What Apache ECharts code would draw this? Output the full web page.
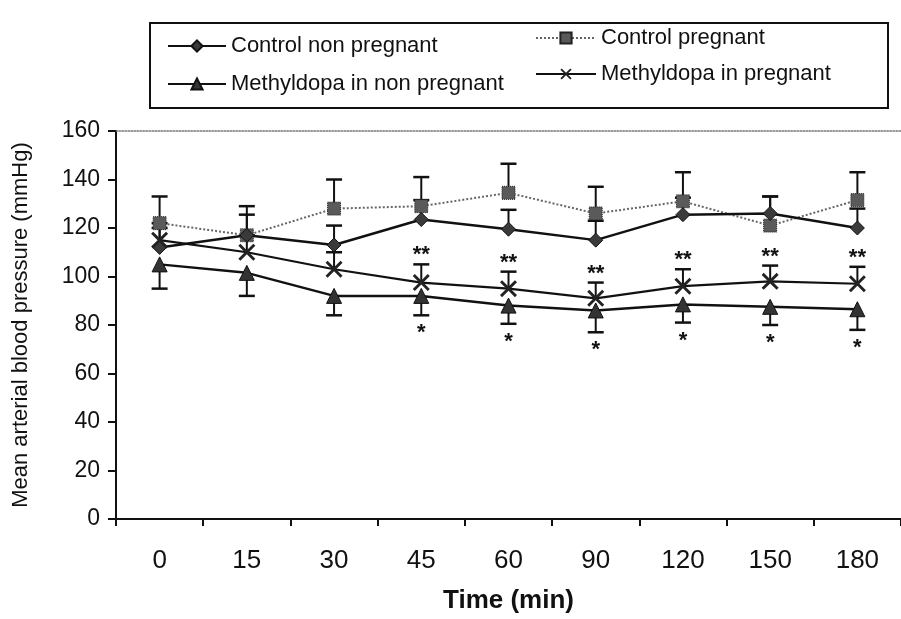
<!DOCTYPE html>
<html>
<head>
<meta charset="utf-8">
<script src="https://cdn.jsdelivr.net/npm/echarts@6/dist/echarts.min.js"></script>
<style>
  html, body { margin: 0; padding: 0; background: #fff; }
  #chart { width: 901px; height: 619px; }
</style>
</head>
<body>
<div id="chart"></div>
<script>
// Time points (min)
const categories = ['0', '15', '30', '45', '60', '90', '120', '150', '180'];

// Mean arterial blood pressure (mmHg) with SEM
const controlNonPregnant = [112, 117, 113, 123.5, 119.5, 115, 125.5, 126, 120];
const controlNonPregnantErr = [8, 8.5, 8, 8, 8, 8, 7, 7, 8];
const controlPregnant = [122, 117, 128, 129, 134.5, 126, 131, 121, 131.5];
const controlPregnantErr = [11, 12, 12, 12, 12, 11, 12, 12, 11.5];
const methyldopaNonPregnant = [105, 101.5, 92, 92, 88, 86, 88.5, 87.5, 86.5];
const methyldopaNonPregnantErr = [10, 9.5, 8, 8, 7.5, 9, 7.5, 7.5, 8.5];
const methyldopaPregnant = [115, 110, 103, 97.5, 95, 91, 96, 98, 97];
const methyldopaPregnantErr = [7, 7, 7, 7.5, 7, 6.5, 7, 6.5, 7];

// Significance marks
const sigPregnant = ['', '', '', '**', '**', '**', '**', '**', '**'];
const sigNonPregnant = ['', '', '', '*', '*', '*', '*', '*', '*'];

const yTicks = { min: 0, max: 160, interval: 20 };

const FONT = '"Liberation Sans", Arial, sans-serif';
const crossPath = 'path://M0,1.2 L1.2,0 L5,3.8 L8.8,0 L10,1.2 L6.2,5 L10,8.8 L8.8,10 L5,6.2 L1.2,10 L0,8.8 L3.8,5 Z';

// One-sided error bars, optionally with a significance label at the cap
function errorBars(values, errs, dir, marks, gap) {
  return {
    type: 'custom',
    z: 1,
    silent: true,
    data: values.map((v, i) => [i, v, errs[i]]),
    renderItem: function (params, api) {
      const x = api.value(0), v = api.value(1), e = api.value(2);
      const p0 = api.coord([x, v]);
      const p1 = api.coord([x, v + dir * e]);
      const half = 8;
      const children = [
        { type: 'line', shape: { x1: p0[0], y1: p0[1], x2: p1[0], y2: p1[1] },
          style: { stroke: '#111', lineWidth: 2 } },
        { type: 'line', shape: { x1: p1[0] - half, y1: p1[1], x2: p1[0] + half, y2: p1[1] },
          style: { stroke: '#111', lineWidth: 2.5 } }
      ];
      const mark = marks ? marks[params.dataIndex] : '';
      if (mark) {
        children.push({
          type: 'text',
          style: {
            text: mark,
            x: p1[0], y: p1[1] - dir * gap,
            align: 'center', verticalAlign: 'middle',
            textAlign: 'center', textVerticalAlign: 'middle',
            font: 'bold 22px ' + FONT,
            fill: '#111'
          }
        });
      }
      return { type: 'group', children: children };
    }
  };
}

const chart = echarts.init(document.getElementById('chart'));

chart.setOption({
  backgroundColor: '#fff',
  animation: false,
  grid: { left: 116, top: 131, width: 794, height: 390 },
  graphic: [{
    type: 'rect',
    shape: { x: 150, y: 23, width: 738, height: 85 },
    style: { fill: 'none', stroke: '#111', lineWidth: 2 }
  }],
  legend: [{
    orient: 'vertical',
    left: 162, top: 30,
    itemWidth: 58, itemHeight: 14, itemGap: 16,
    textStyle: { fontFamily: FONT, fontSize: 22, color: '#111' },
    data: ['Control non pregnant', 'Methyldopa in non pregnant']
  }, {
    orient: 'vertical',
    left: 530, top: 22,
    itemWidth: 60, itemHeight: 14, itemGap: 14,
    textStyle: { fontFamily: FONT, fontSize: 22, color: '#111' },
    data: ['Control pregnant', 'Methyldopa in pregnant']
  }],
  xAxis: [{
    type: 'category',
    data: categories,
    boundaryGap: true,
    name: 'Time (min)',
    nameLocation: 'middle',
    nameGap: 69,
    nameTextStyle: { fontFamily: FONT, fontSize: 26, fontWeight: 'bold', color: '#111' },
    axisLine: { lineStyle: { color: '#111', width: 2 } },
    axisTick: { show: true, length: 7, lineStyle: { color: '#111', width: 2 } },
    axisLabel: { fontFamily: FONT, fontSize: 26, color: '#111', margin: 29 },
    splitLine: { show: false }
  }, {
    type: 'category',
    data: categories,
    position: 'top',
    axisLine: { lineStyle: { color: '#777', width: 1.5, type: 'dotted' } },
    axisTick: { show: false },
    axisLabel: { show: false },
    splitLine: { show: false }
  }],
  yAxis: {
    type: 'value',
    min: yTicks.min, max: yTicks.max, interval: yTicks.interval,
    name: 'Mean arterial blood pressure (mmHg)',
    nameLocation: 'middle',
    nameGap: 84,
    nameTextStyle: { fontFamily: FONT, fontSize: 22, color: '#111' },
    axisLine: { show: true, lineStyle: { color: '#111', width: 2 } },
    axisTick: { show: true, length: 8, lineStyle: { color: '#111', width: 2 } },
    axisLabel: { fontFamily: FONT, fontSize: 23, color: '#111', margin: 16 },
    splitLine: { show: false }
  },
  series: [
    errorBars(controlPregnant, controlPregnantErr, 1, null, 0),
    errorBars(controlNonPregnant, controlNonPregnantErr, 1, null, 0),
    errorBars(methyldopaPregnant, methyldopaPregnantErr, 1, sigPregnant, 9),
    errorBars(methyldopaNonPregnant, methyldopaNonPregnantErr, -1, sigNonPregnant, 18),
    {
      name: 'Control non pregnant',
      type: 'line',
      data: controlNonPregnant,
      symbol: 'diamond', symbolSize: 14,
      z: 4,
      itemStyle: { color: '#3a3a3a', borderColor: '#111', borderWidth: 1 },
      lineStyle: { color: '#111', width: 2.5 }
    },
    {
      name: 'Control pregnant',
      type: 'line',
      data: controlPregnant,
      symbol: 'rect', symbolSize: 13,
      z: 3,
      itemStyle: { color: '#5a5a5a', borderColor: '#222', borderWidth: 1, borderType: 'dotted' },
      lineStyle: { color: '#666', width: 2, type: 'dotted' }
    },
    {
      name: 'Methyldopa in non pregnant',
      type: 'line',
      data: methyldopaNonPregnant,
      symbol: 'triangle', symbolSize: 15,
      z: 4,
      itemStyle: { color: '#333', borderColor: '#111', borderWidth: 1 },
      lineStyle: { color: '#111', width: 2.5 }
    },
    {
      name: 'Methyldopa in pregnant',
      type: 'line',
      data: methyldopaPregnant,
      symbol: crossPath, symbolSize: 17,
      z: 4,
      itemStyle: { color: '#222' },
      lineStyle: { color: '#111', width: 2.2 }
    }
  ]
});
</script>
</body>
</html>
